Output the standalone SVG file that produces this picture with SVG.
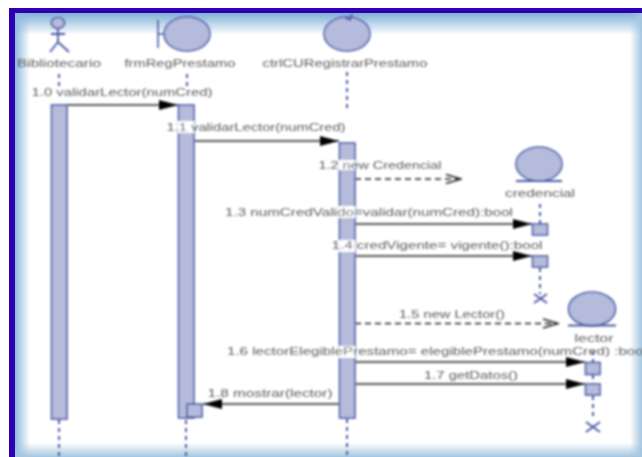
<svg xmlns="http://www.w3.org/2000/svg" width="642" height="457" viewBox="0 0 642 457">
<style>
text{font-family:"Liberation Sans",Arial,sans-serif;font-size:11px;fill:#5a5a5a;text-anchor:middle}
.shape{fill:#b4bbdb;stroke:#4a58a8;stroke-width:1.6}
.life{fill:none;stroke:#4a58a8;stroke-width:2;stroke-dasharray:4 4}
.msg{fill:none;stroke:#222;stroke-width:1.5;marker-end:url(#solid)}
.new{fill:none;stroke:#222;stroke-width:1.3;stroke-dasharray:6 4;marker-end:url(#open)}
.x{fill:none;stroke:#4a58a8;stroke-width:1.8}
</style>
<defs>
<linearGradient id="top" x1="0" y1="0" x2="0" y2="1"><stop offset="0" stop-color="#7fb0d6"/><stop offset="1" stop-color="#7fb0d6" stop-opacity="0"/></linearGradient>
<linearGradient id="left" x1="0" y1="0" x2="1" y2="0"><stop offset="0" stop-color="#8fbade"/><stop offset="1" stop-color="#8fbade" stop-opacity="0"/></linearGradient>
<linearGradient id="right" x1="1" y1="0" x2="0" y2="0"><stop offset="0" stop-color="#a4c6e0"/><stop offset="1" stop-color="#a4c6e0" stop-opacity="0"/></linearGradient>
<linearGradient id="bottom" x1="0" y1="1" x2="0" y2="0"><stop offset="0" stop-color="#a4c6e0"/><stop offset="1" stop-color="#a4c6e0" stop-opacity="0"/></linearGradient>
<filter id="soft" x="-5%" y="-5%" width="110%" height="110%"><feGaussianBlur stdDeviation="0.9"/></filter>
<marker id="solid" markerUnits="userSpaceOnUse" markerWidth="20" markerHeight="12" refX="19" refY="6" orient="auto"><path d="M0 1L19 6L0 11Z" fill="#000"/></marker>
<marker id="open" markerUnits="userSpaceOnUse" markerWidth="20" markerHeight="12" refX="19" refY="6" orient="auto"><path d="M4 1.500L19 6L4 10.500" fill="none" stroke="#222" stroke-width="1.4"/></marker>
</defs>
<rect width="642" height="457" fill="#fff"/>
<rect x="15" y="13" width="627" height="22" fill="url(#top)"/>
<rect x="15" y="13" width="15" height="444" fill="url(#left)"/>
<rect x="630" y="13" width="12" height="444" fill="url(#right)"/>
<rect x="15" y="443" width="627" height="14" fill="url(#bottom)"/>
<path d="M9 457V8H642V13H15V457Z" fill="#2d00b4"/>
<g filter="url(#soft)">
<g id="connectors">
<path class="life" d="M59 74V86M59 420V457M187 74V86M186 420V457M347 72V108M347 419V457M540 204V224M540 268V294M593 351V362M593 375V384M593 396V420"/>
<path class="msg" d="M67 105H178"/>
<path class="msg" d="M194 141H339"/>
<path class="new" d="M355 179H461"/>
<path class="msg" d="M355 224H532"/>
<path class="msg" d="M355 256H532"/>
<path class="new" d="M355 323.500H558"/>
<path class="msg" d="M355 362H585"/>
<path class="msg" d="M355 384H585"/>
<path class="msg" d="M339 404H203"/>
</g>
<g id="bibliotecario">
<ellipse class="shape" cx="58" cy="23" rx="6.500" ry="5.500"/>
<path class="x" d="M58 29V42M51 34H65M58 42L50 52M58 42L69 52"/>
<text x="59" y="67" textLength="84" lengthAdjust="spacingAndGlyphs">Bibliotecario</text>
<rect class="shape" x="51.500" y="105" width="15.500" height="314"/>
</g>
<g id="frmRegPrestamo">
<ellipse class="shape" cx="187" cy="34" rx="23" ry="17"/>
<path class="shape" d="M158 20V48M158 34H164"/>
<text x="180" y="67" textLength="111" lengthAdjust="spacingAndGlyphs">frmRegPrestamo</text>
<rect class="shape" x="178.500" y="105" width="15.500" height="313"/>
</g>
<g id="ctrlCURegistrarPrestamo">
<ellipse class="shape" cx="347" cy="34" rx="23" ry="17"/>
<path class="x" d="M352 14L350 20L345 18"/>
<text x="345" y="67" textLength="165" lengthAdjust="spacingAndGlyphs">ctrlCURegistrarPrestamo</text>
<rect class="shape" x="339.500" y="143" width="15.500" height="275"/>
</g>
<g id="credencial">
<ellipse class="shape" cx="539" cy="164" rx="23" ry="17"/>
<path class="x" d="M516 181H562"/>
<text x="540" y="197" textLength="70" lengthAdjust="spacingAndGlyphs">credencial</text>
<rect class="shape" x="532.500" y="224" width="15" height="11"/>
<rect class="shape" x="532.500" y="256" width="15" height="11"/>
<path class="x" d="M534 294L547 303M547 294L534 303"/>
</g>
<g id="lector">
<ellipse class="shape" cx="592" cy="309" rx="23.500" ry="17"/>
<path class="x" d="M568 325.500H616"/>
<text x="594" y="342" textLength="39" lengthAdjust="spacingAndGlyphs">lector</text>
<rect class="shape" x="585.500" y="362.500" width="14.500" height="12"/>
<rect class="shape" x="585.500" y="384" width="14.500" height="11"/>
<path class="x" d="M586 422L600 432M600 422L586 432"/>
</g>
<g id="labels" fill="#fff">
<rect x="178" y="121" width="16" height="12"/>
<rect x="339" y="160" width="16" height="10"/>
<rect x="339" y="206" width="16" height="12"/>
<rect x="339" y="240" width="16" height="12"/>
<rect x="339" y="346" width="16" height="12"/>
<text x="122" y="96" textLength="181" lengthAdjust="spacingAndGlyphs">1.0 validarLector(numCred)</text>
<text x="256" y="131" textLength="179" lengthAdjust="spacingAndGlyphs">1.1 validarLector(numCred)</text>
<text x="380" y="169" textLength="123" lengthAdjust="spacingAndGlyphs">1.2 new Credencial</text>
<text x="369" y="216" textLength="288" lengthAdjust="spacingAndGlyphs">1.3 numCredValido=validar(numCred):bool</text>
<text x="437" y="249" textLength="211" lengthAdjust="spacingAndGlyphs">1.4 credVigente= vigente():bool</text>
<text x="452" y="318" textLength="106" lengthAdjust="spacingAndGlyphs">1.5 new Lector()</text>
<text x="437" y="355" textLength="420" lengthAdjust="spacingAndGlyphs">1.6 lectorElegiblePrestamo= elegiblePrestamo(numCred) :bool</text>
<text x="471" y="379" textLength="94" lengthAdjust="spacingAndGlyphs">1.7 getDatos()</text>
<text x="270" y="397" textLength="125" lengthAdjust="spacingAndGlyphs">1.8 mostrar(lector)</text>
</g>
<rect class="shape" x="187" y="404" width="15" height="13"/>
</g>
</svg>
